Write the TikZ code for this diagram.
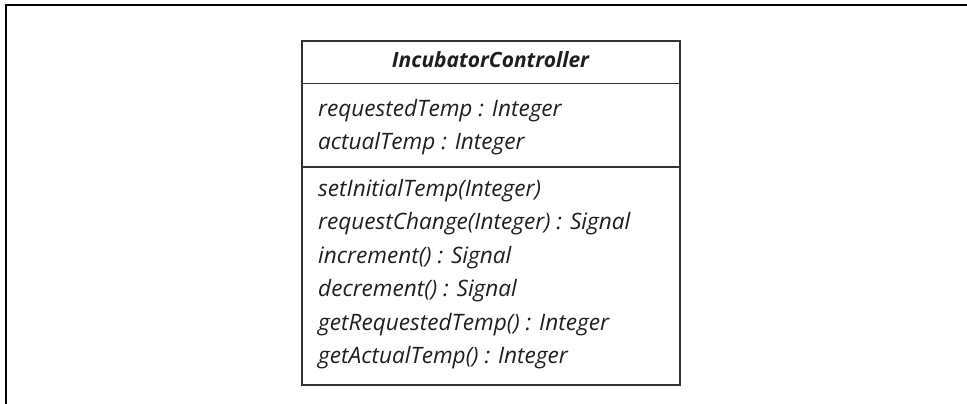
\documentclass[tikz,border=0pt]{standalone}
\usepackage{fontspec}
\setsansfont{Open Sans}
\begin{document}
\begin{tikzpicture}[x=1pt,y=-1pt,
  frameline/.style={line width=2pt,draw=black},
  boxline/.style={line width=1.3pt,draw=black!80},
  member/.style={anchor=base west,inner sep=0pt,font=\sffamily\itshape\fontsize{22.6}{26}\selectfont,text=black!88},
  title/.style={anchor=base,inner sep=0pt,font=\sffamily\bfseries\itshape\fontsize{21}{25}\selectfont,text=black!88}]
\useasboundingbox (0,0) rectangle (967,404);
% outer partial frame
\coordinate (ftr) at (967,5);
\coordinate (ftl) at (6,5);
\coordinate (fbl) at (6,404);
\draw[frameline] (ftr) -- (ftl) -- (fbl);
% class box
\coordinate (bnw) at (302,41);
\coordinate (bse) at (680,385);
\draw[boxline] (bnw) rectangle (bse);
\coordinate (d1l) at (302,83.5);
\coordinate (d1r) at (680,83.5);
\coordinate (d2l) at (302,167);
\coordinate (d2r) at (680,167);
\draw[boxline] (d1l) -- (d1r);
\draw[boxline] (d2l) -- (d2r);
\node[title] (t) at (490.5,68) {IncubatorController};
\node[member] (a1) at (318,116.5) {requestedTemp : Integer};
\node[member] (a2) at (318,149.5) {actualTemp : Integer};
\node[member] (o1) at (318,196.5) {setInitialTemp(Integer)};
\node[member] (o2) at (318,229.9) {requestChange(Integer) : Signal};
\node[member] (o3) at (318,263.3) {increment() : Signal};
\node[member] (o4) at (318,296.7) {decrement() : Signal};
\node[member] (o5) at (318,330.1) {getRequestedTemp() : Integer};
\node[member] (o6) at (318,363.5) {getActualTemp() : Integer};
\end{tikzpicture}
\end{document}
